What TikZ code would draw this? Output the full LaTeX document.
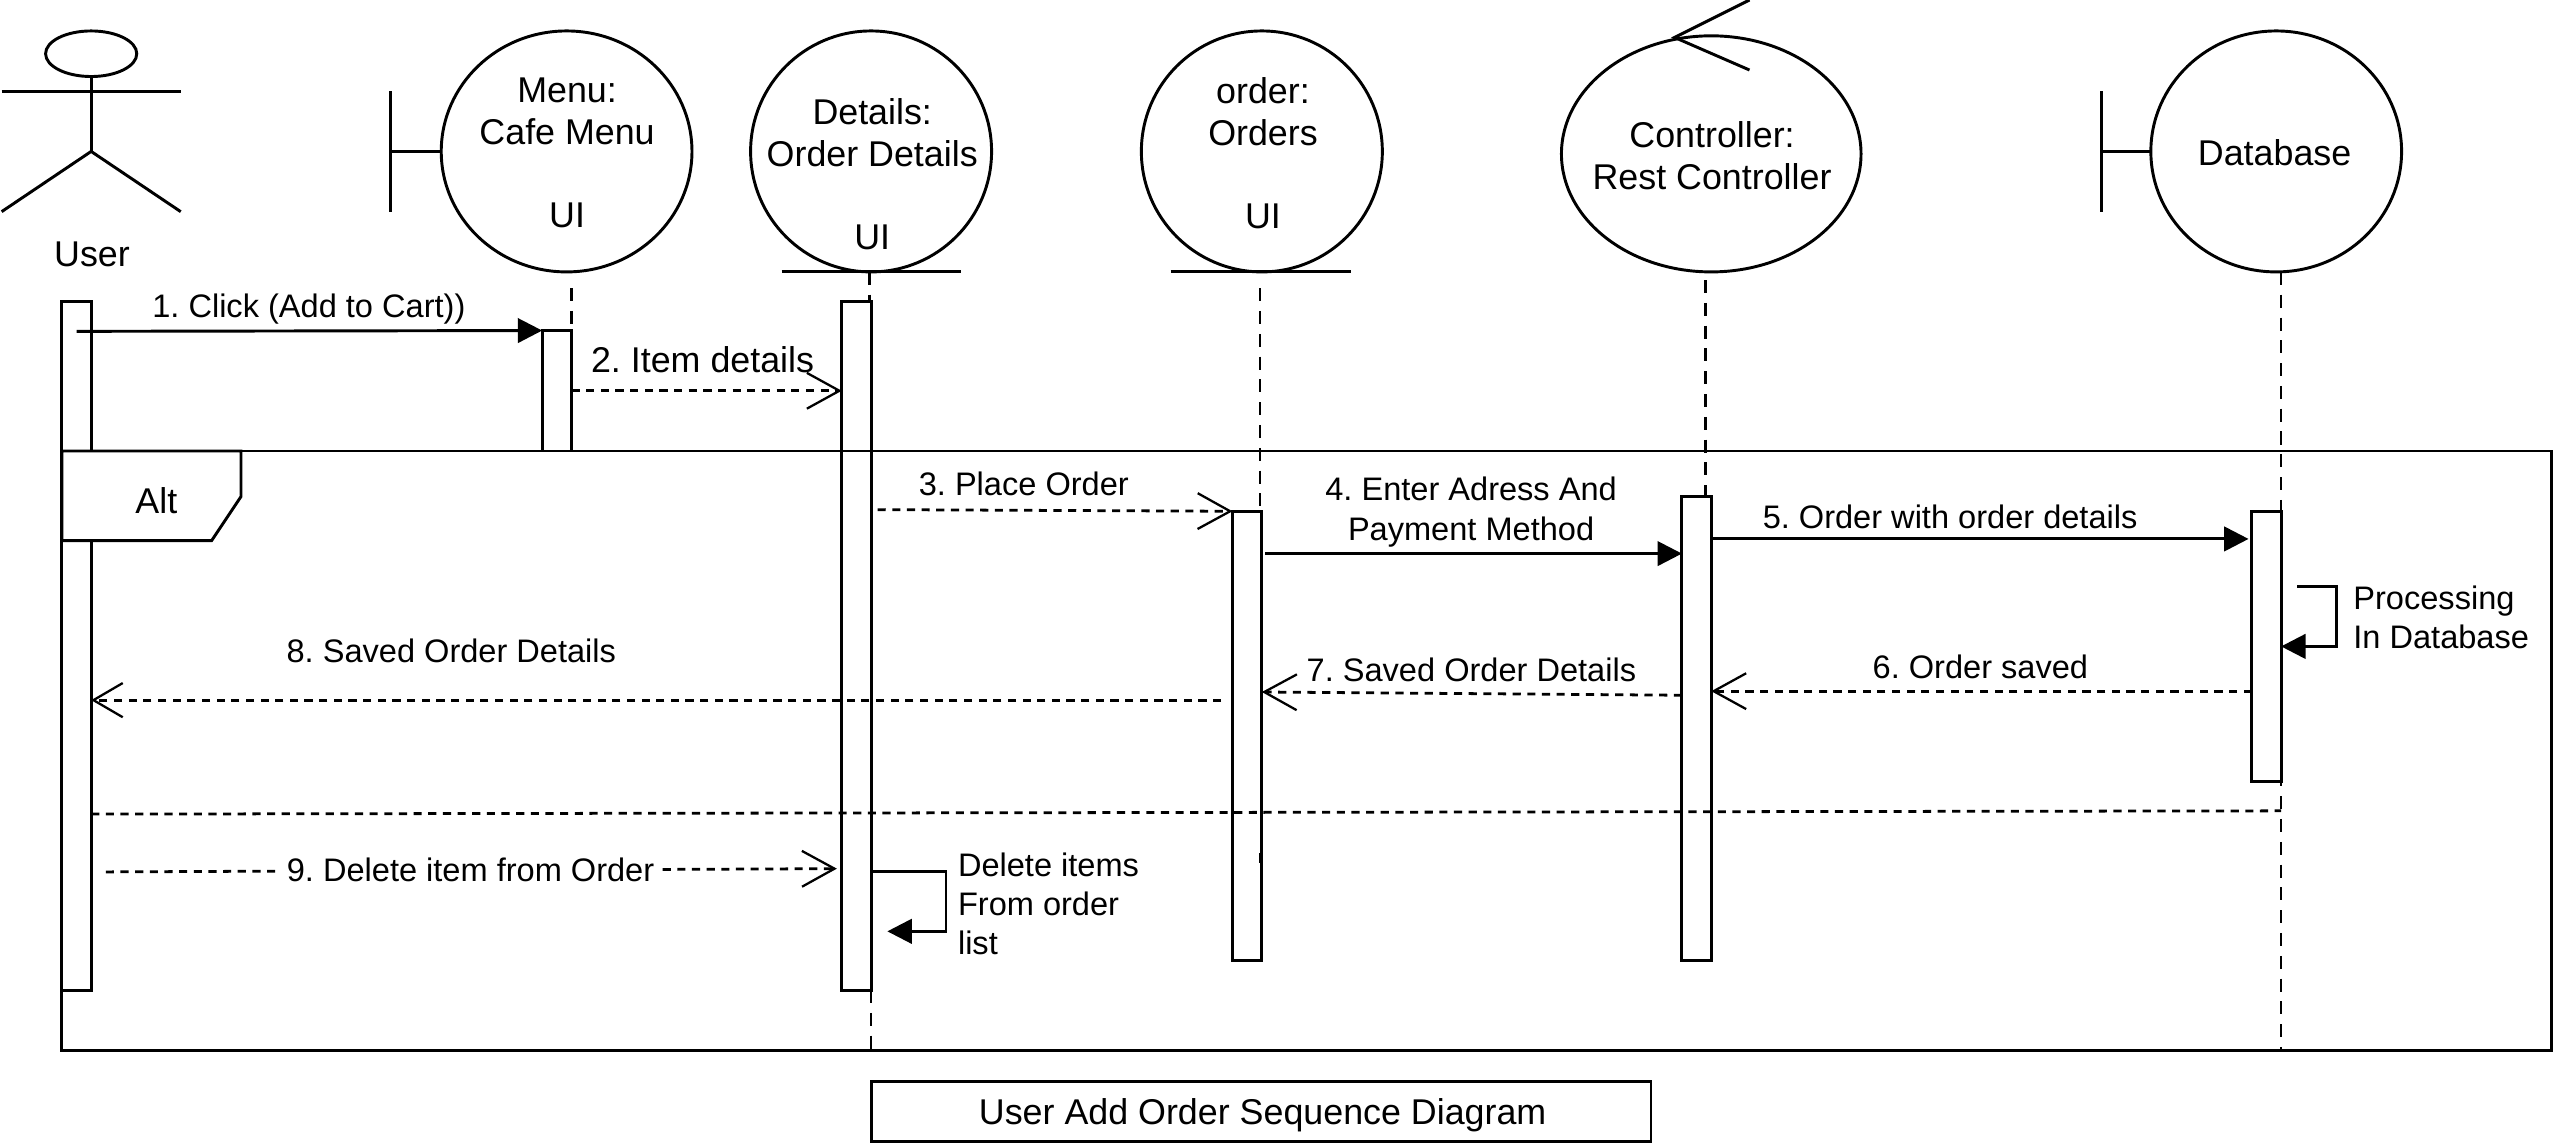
\documentclass[tikz,border=0pt]{standalone}
\usepackage{fontspec}
\setmainfont{Liberation Sans}
\usetikzlibrary{arrows.meta,shapes.geometric,calc}
\frenchspacing
\tikzset{
  x=1pt,y=-1pt,
  every path/.style={line width=1.8pt},
  big/.style={font=\fontsize{22}{25.5}\selectfont,align=center,inner sep=0pt},
  msg/.style={font=\fontsize{20}{24}\selectfont,align=center,inner sep=0pt},
  msgl/.style={font=\fontsize{20}{24}\selectfont,align=left,inner sep=0pt,anchor=west},
  obj/.style={draw,ellipse,inner sep=0pt,outer sep=0pt},
  bar/.style={draw,fill=white,rectangle,inner sep=0pt,outer sep=0pt,minimum width=18pt},
  life/.style={line width=1.4pt,dash pattern=on 8pt off 6pt},
  sync/.style={-{Triangle[length=15pt,width=15pt]}},
  ret/.style={line width=1.7pt,dash pattern=on 5pt off 4pt,-{Straight Barb[length=20pt,width=22pt,line width=1.4pt]}},
  sep/.style={line width=1.7pt,dash pattern=on 5pt off 4pt},
}
\begin{document}
\begin{tikzpicture}
\useasboundingbox (0,0) rectangle (1568,702);
% actor
\node[obj,minimum width=56pt,minimum height=28pt] (head) at (56,33) {};
\coordinate (neck) at (56,56);
\coordinate (hip) at (56,93);
\coordinate (armL) at (1,56);
\coordinate (armR) at (111,56);
\coordinate (legL) at (1,130);
\coordinate (legR) at (111,130);
\draw (head.south) -- (hip);
\draw (armL) -- (armR);
\draw (legL) -- (hip) -- (legR);
\node[big] (userlabel) at (56.5,156) {User};
% objects
\node[obj,minimum width=154pt,minimum height=148pt] (menu) at (348,93) {};
\node[obj,minimum width=148pt,minimum height=148pt] (details) at (535,93) {};
\node[obj,minimum width=148pt,minimum height=148pt] (order) at (775,93) {};
\node[obj,minimum width=184pt,minimum height=145pt] (ctrl) at (1051,94.5) {};
\node[obj,minimum width=154pt,minimum height=148pt] (db) at (1398,93) {};
\node[big] (menulabel) at (348.3,94) {Menu:\\Cafe Menu\\ \\UI};
\node[big] (detailslabel) at (535.7,107) {Details:\\Order Details\\ \\UI};
\node[big] (orderlabel) at (775.7,94) {order:\\Orders\\ \\UI};
\node[big] (ctrllabel) at (1051.5,95.5) {Controller:\\Rest Controller};
\node[big] (dblabel) at (1397,93.5) {Database};
% boundary stereotypes
\coordinate (mb1) at (240,56); \coordinate (mb2) at (240,130); \coordinate (mb3) at (240,93);
\draw (mb1) -- (mb2); \draw (mb3) -- (menu.west);
\coordinate (db1) at (1290.5,56); \coordinate (db2) at (1290.5,130); \coordinate (db3) at (1290.5,93);
\draw (db1) -- (db2); \draw (db3) -- (db.west);
% entity lines
\coordinate (de1) at (480,167); \coordinate (de2) at (590,167);
\draw (de1) -- (de2);
\coordinate (oe1) at (719,167); \coordinate (oe2) at (830,167);
\draw (oe1) -- (oe2);
% control arrow
\coordinate (ca0) at (1028.5,23); \coordinate (ca1) at (1074.5,0); \coordinate (ca2) at (1074.5,43);
\draw (ca1) -- (ca0) -- (ca2);
% lifelines
\coordinate (lm1) at (351,177); \coordinate (lm2) at (351,203);
\coordinate (ld1) at (534,167); \coordinate (ld2) at (534,185);
\coordinate (lo1) at (774,177); \coordinate (lo2) at (774,314);
\coordinate (lc1) at (1047.5,172); \coordinate (lc2) at (1047.5,305);
\coordinate (lb1) at (1401,167); \coordinate (lb2) at (1401,645);
\coordinate (ld3) at (535,608); \coordinate (ld4) at (535,645);
\draw[life] (lm1) -- (lm2);
\draw[life] (ld1) -- (ld2);
\draw[life] (lo1) -- (lo2);
\draw[life] (lc1) -- (lc2);
\draw[life] (lb1) -- (lb2);
\draw[life] (ld3) -- (ld4);
% activations
\node[bar,minimum height=423.5pt] (ubar) at (47,396.75) {};
\node[bar,minimum height=74pt] (mbar) at (342,240) {};
\node[bar,minimum height=423.5pt] (dbar) at (526,396.75) {};
\node[bar,minimum height=276pt] (obar) at (766,452) {};
\node[bar,minimum height=285pt] (cbar) at (1042,447.5) {};
\node[bar,minimum height=166pt] (bbar) at (1392,397) {};
% frame
\node[draw,rectangle,inner sep=0pt,outer sep=0pt,minimum width=1529pt,minimum height=368pt] (frame) at (802.5,461) {};
\draw[fill=white] (frame.north west) -- ++(110,0) -- ++(0,28) -- ++(-18,27) -- ++(-92,0) -- cycle;
\node[big] (altlabel) at (96,307.5) {Alt};
% stub of the orders lifeline
\coordinate (lo3) at (774,524); \coordinate (lo4) at (774,530);
\draw[line width=1pt] (lo3) -- (lo4);
% messages
\coordinate (m1s) at (47,203.5);
\draw[sync] (m1s) -- (mbar.north west);
\node[msg] (m1) at (189.7,190) {1. Click (Add to Cart))};
\draw[ret] (mbar.east |- 0,240) -- (dbar.west |- 0,240);
\node[big] (m2) at (431.5,221) {2. Item details};
\coordinate (m3s) at (539,313);
\draw[ret] (m3s) -- (obar.north west);
\node[msg] (m3) at (628.8,297) {3. Place Order};
\coordinate (m4s) at (777,340);
\draw[sync] (m4s) -- (cbar.west |- 0,340);
\node[msg] (m4) at (903.5,314.5) {4. Enter Adress And\\Payment Method};
\draw[sync] (cbar.east |- 0,331) -- ($(bbar.west |- 0,331)+(-2,0)$);
\node[msg] (m5) at (1197.7,317.5) {5. Order with order details};
\draw[ret] (bbar.west |- 0,424.5) -- (cbar.east |- 0,424.5);
\node[msg] (m6) at (1216.3,409.5) {6. Order saved};
\draw[ret] (cbar.west |- 0,427) -- (obar.east |- 0,425);
\node[msg] (m7) at (903.7,411.5) {7. Saved Order Details};
\coordinate (m8s) at (750,430);
\draw[ret,-{Straight Barb[length=18pt,width=21pt,line width=1.4pt]}] (m8s) -- (ubar.east |- 0,430);
\node[msg] (m8) at (277.2,400) {8. Saved Order Details};
\coordinate (sp2) at (1401,498);
\draw[sep] (ubar.east |- 0,500) -- (sp2);
\coordinate (m9s) at (65,535.5);
\coordinate (m9e) at (514,533.5);
\draw[ret] (m9s) -- (m9e);
\node[msg,fill=white,inner xsep=4pt,inner ysep=1pt] (m9) at (289,534.5) {9. Delete item from Order};
% self messages
\coordinate (s1a) at (581,535); \coordinate (s1b) at (581,572); \coordinate (s1c) at (545,572);
\draw[sync] (dbar.east |- s1a) -- (s1a) -- (s1b) -- (s1c);
\node[msgl] (s1l) at (587.5,555) {Delete items\\From order\\list};
\coordinate (s2s) at (1411,360); \coordinate (s2a) at (1435,360); \coordinate (s2b) at (1435,397);
\draw[sync] (s2s) -- (s2a) -- (s2b) -- (bbar.east |- s2b);
\node[msgl] (s2l) at (1444.5,379) {Processing\\In Database};
% title
\node[draw,rectangle,outer sep=0pt,minimum width=479pt,minimum height=37pt] (title) at (774.5,682.5) {};
\node[big] (titlelabel) at (775.5,685) {User Add Order Sequence Diagram};
\end{tikzpicture}
\end{document}
